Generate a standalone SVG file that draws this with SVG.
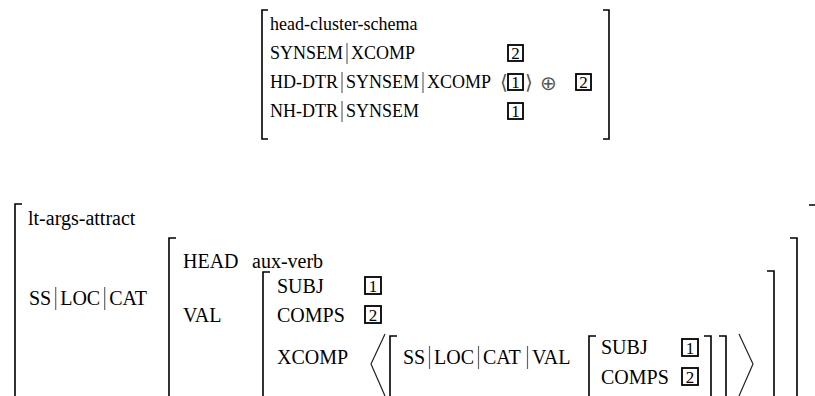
<svg xmlns="http://www.w3.org/2000/svg" width="815" height="396" viewBox="0 0 815 396">
<style>
text{font-family:"Liberation Serif","Times New Roman",serif;font-size:20px;fill:#000}
.s18{font-size:18px}
.sym{font-family:"DejaVu Sans",sans-serif;fill:#555}
.tagn{font-size:17px;text-anchor:middle}
.br{fill:none;stroke:#000;stroke-width:1.6}
.bar{stroke:#666;stroke-width:1.2}
.tag{fill:none;stroke:#000;stroke-width:1.8}
.ang{fill:none;stroke:#222;stroke-width:1.2}
</style>
<rect width="815" height="396" fill="#fff"/>

<g id="head-cluster-schema">
  <path class="br" d="M268,10 H262 V139 H268"/>
  <path class="br" d="M603,10 H609 V139 H603"/>
  <text class="s18" x="270" y="30">head-cluster-schema</text>
  <text class="s18" x="270" y="59">SYNSEM</text><line class="bar" x1="347" y1="43" x2="347" y2="64"/><text class="s18" x="351" y="59">XCOMP</text>
  <rect class="tag" x="508" y="45" width="15" height="16"/><text class="tagn s18" x="515.5" y="59">2</text>
  <text class="s18" x="270" y="88">HD-DTR</text><line class="bar" x1="342" y1="72" x2="342" y2="93"/>
  <text class="s18" x="346" y="88">SYNSEM</text><line class="bar" x1="423" y1="72" x2="423" y2="93"/>
  <text class="s18" x="427" y="88">XCOMP</text>
  <text class="sym" x="500" y="89" font-size="18">⟨</text>
  <rect class="tag" x="508" y="74" width="15" height="16"/><text class="tagn s18" x="515.5" y="88">1</text>
  <text class="sym" x="525" y="89" font-size="18">⟩</text>
  <text class="sym" x="540" y="90" font-size="24">⊕</text>
  <rect class="tag" x="576" y="74" width="15" height="16"/><text class="tagn s18" x="583.5" y="88">2</text>
  <text class="s18" x="270" y="117">NH-DTR</text><line class="bar" x1="342" y1="101" x2="342" y2="122"/><text class="s18" x="346" y="117">SYNSEM</text>
  <rect class="tag" x="508" y="103" width="15" height="16"/><text class="tagn s18" x="515.5" y="117">1</text>
</g>

<g id="lt-args-attract">
  <path class="br" d="M22,204 H15 V400"/>
  <path class="br" d="M809,205 H817 V400"/>
  <text x="28" y="225">lt-args-attract</text>
  <text x="29" y="305">SS</text><line class="bar" x1="55.7" y1="287" x2="55.7" y2="310"/>
  <text x="60.2" y="305">LOC</text><line class="bar" x1="104.7" y1="287" x2="104.7" y2="310"/>
  <text x="109.2" y="305">CAT</text>
</g>

<g id="cat">
  <path class="br" d="M176,238 H169 V400"/>
  <path class="br" d="M790,238 H797 V400"/>
  <text x="183" y="268">HEAD</text><text x="252" y="268">aux-verb</text>
  <text x="183" y="322">VAL</text>
</g>

<g id="val">
  <path class="br" d="M270,272 H263 V400"/>
  <path class="br" d="M767,271 H774 V400"/>
  <text x="277" y="293">SUBJ</text>
  <rect class="tag" x="365" y="277" width="16" height="17"/><text class="tagn" x="373" y="292">1</text>
  <text x="277" y="322">COMPS</text>
  <rect class="tag" x="365" y="306" width="16" height="17"/><text class="tagn" x="373" y="321">2</text>
  <text x="277" y="364">XCOMP</text>
  <path class="ang" d="M385,334 L371,364 L385,396"/>
  <path class="ang" d="M739,334 L753,364 L739,396"/>
</g>

<g id="xcomp">
  <path class="br" d="M397,336 H390 V400"/>
  <path class="br" d="M719,336 H726 V400"/>
  <text x="403" y="364">SS</text><line class="bar" x1="429.5" y1="346" x2="429.5" y2="369"/>
  <text x="434" y="364">LOC</text><line class="bar" x1="478.5" y1="346" x2="478.5" y2="369"/>
  <text x="483" y="364">CAT</text><line class="bar" x1="527.5" y1="346" x2="527.5" y2="369"/>
  <text x="532" y="364">VAL</text>
</g>

<g id="inner-val">
  <path class="br" d="M596,336 H589 V400"/>
  <path class="br" d="M704,336 H711 V400"/>
  <text x="601" y="354">SUBJ</text>
  <rect class="tag" x="682" y="339" width="16" height="17"/><text class="tagn" x="690" y="354">1</text>
  <text x="601" y="384">COMPS</text>
  <rect class="tag" x="682" y="368" width="16" height="17"/><text class="tagn" x="690" y="383">2</text>
</g>
</svg>
